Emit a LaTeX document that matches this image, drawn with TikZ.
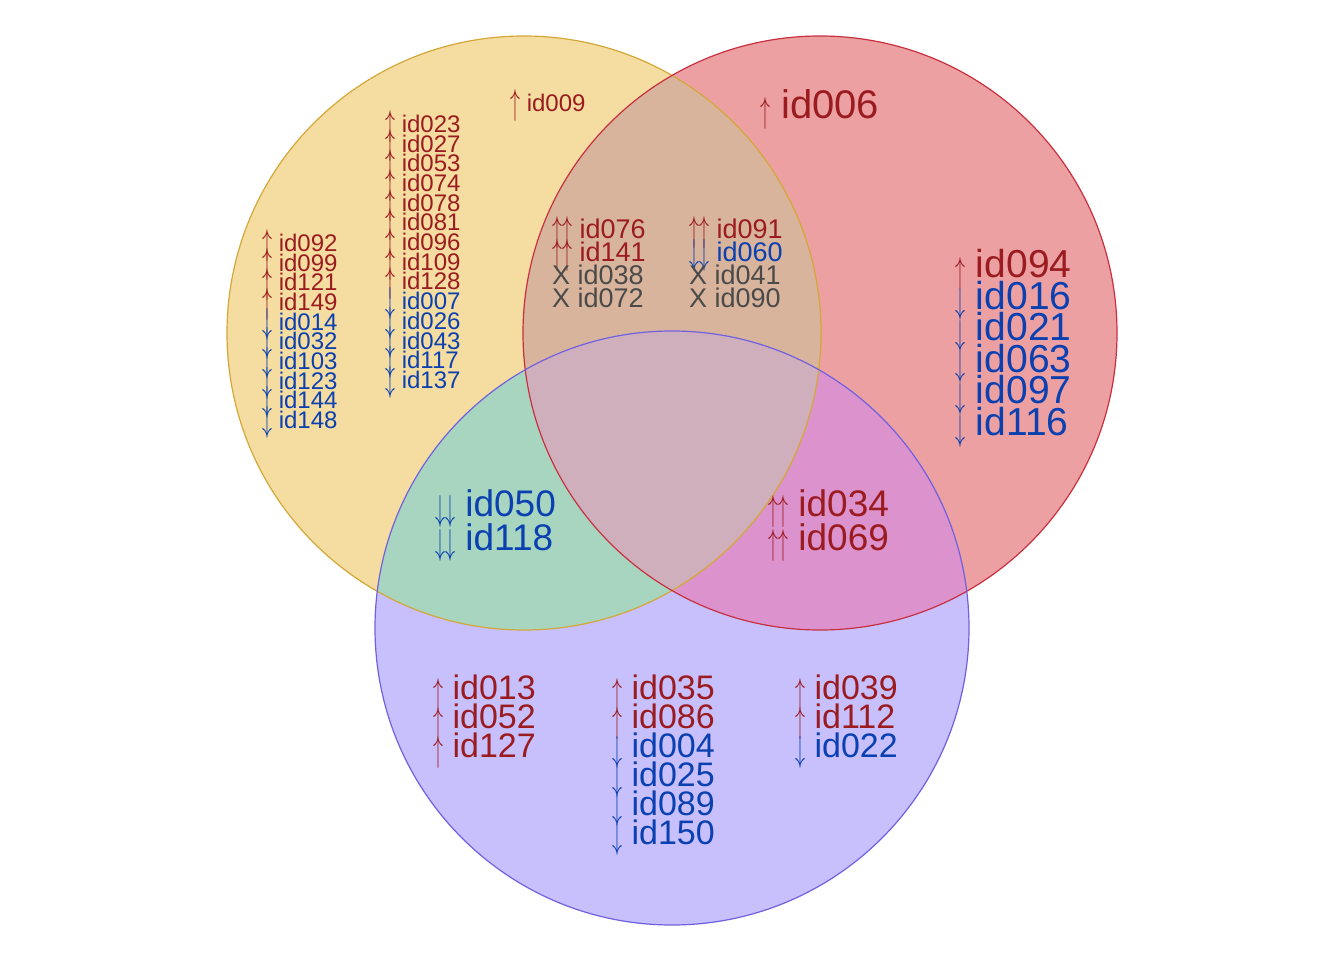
\documentclass[tikz,border=0pt]{standalone}
\usepackage{fontspec}
\setmainfont{Liberation Sans}
\usepackage{tikz}
\usetikzlibrary{positioning}
\definecolor{onlyA}{RGB}{245,220,160}
\definecolor{onlyB}{RGB}{236,160,162}
\definecolor{onlyC}{RGB}{200,192,253}
\definecolor{fillAB}{RGB}{217,180,156}
\definecolor{fillAC}{RGB}{168,213,191}
\definecolor{fillBC}{RGB}{220,146,204}
\definecolor{fillABC}{RGB}{208,175,188}
\definecolor{lineA}{RGB}{212,168,56}
\definecolor{lineB}{RGB}{200,48,64}
\definecolor{lineC}{RGB}{112,96,224}
\definecolor{upred}{RGB}{155,28,32}
\definecolor{downblue}{RGB}{10,64,176}
\definecolor{mixgray}{RGB}{74,74,74}
\newcommand{\ua}{\raisebox{-0.12em}{\scalebox{0.8}[1.45]{$\uparrow$}}}
\newcommand{\da}{\raisebox{-0.12em}{\scalebox{0.8}[1.45]{$\downarrow$}}}
\newcommand{\U}[1]{\textcolor{upred}{\ua\ #1}}
\newcommand{\D}[1]{\textcolor{downblue}{\da\ #1}}
\newcommand{\UU}[1]{\textcolor{upred}{\ua\ua\ #1}}
\newcommand{\DD}[1]{\textcolor{downblue}{\da\da\ #1}}
\newcommand{\XX}[1]{\textcolor{mixgray}{X #1}}
\newcommand{\fs}[2]{\fontsize{#1}{#2}\selectfont\lineskiplimit=-100pt\relax}
\newcommand{\circA}{(524,333) circle (297)}
\newcommand{\circB}{(820,333) circle (297)}
\newcommand{\circC}{(672,628) circle (297)}
\tikzset{
    idlist/.style={anchor=north west, align=left, inner sep=0pt}
}
\begin{document}
\begin{tikzpicture}[x=1pt,y=-1pt]
    \useasboundingbox (0,0) rectangle (1344,960);
    \fill[white] (0,0) rectangle (1344,960);
    % regions
    \fill[onlyA] \circA;
    \fill[onlyB] \circB;
    \fill[onlyC] \circC;
    \begin{scope}
        \clip \circA;
        \fill[fillAB] \circB;
        \fill[fillAC] \circC;
    \end{scope}
    \begin{scope}
        \clip \circB;
        \fill[fillBC] \circC;
    \end{scope}
    \begin{scope}
        \clip \circA;
        \clip \circB;
        \fill[fillABC] \circC;
    \end{scope}
    \draw[lineA, line width=1.2pt] \circA;
    \draw[lineB, line width=1.2pt] \circB;
    \draw[lineC, line width=1.2pt] \circC;
    % only A
    \node[idlist, font=\fs{24}{19.7}] at (262,229) (onlyA1) {\U{id092}\\\U{id099}\\\U{id121}\\\U{id149}\\\D{id014}\\\D{id032}\\\D{id103}\\\D{id123}\\\D{id144}\\\D{id148}};
    \node[idlist, font=\fs{24}{19.7}] at (385,110) (onlyA2) {\U{id023}\\\U{id027}\\\U{id053}\\\U{id074}\\\U{id078}\\\U{id081}\\\U{id096}\\\U{id109}\\\U{id128}\\\D{id007}\\\D{id026}\\\D{id043}\\\D{id117}\\\D{id137}};
    \node[idlist, font=\fs{24}{24}] at (510,89) (onlyA3) {\U{id009}};
    % only B
    \node[idlist, font=\fs{40}{40}] at (760,89) (onlyB1) {\U{id006}};
    \node[idlist, font=\fs{39}{31.6}] at (955,249) (onlyB2) {\U{id094}\\\D{id016}\\\D{id021}\\\D{id063}\\\D{id097}\\\D{id116}};
    % A and B
    \node[idlist, font=\fs{27}{23.3}] at (552,216) (AB1) {\UU{id076}\\\UU{id141}\\\XX{id038}\\\XX{id072}};
    \node[idlist, font=\fs{27}{23.3}] at (689,216) (AB2) {\UU{id091}\\\DD{id060}\\\XX{id041}\\\XX{id090}};
    % A and C, B and C
    \node[idlist, font=\fs{37}{34}] at (435,489) (AC) {\DD{id050}\\\DD{id118}};
    \node[idlist, font=\fs{37}{34}] at (768,489) (BC) {\UU{id034}\\\UU{id069}};
    % only C
    \node[idlist, font=\fs{34}{29}] at (433,675) (onlyC1) {\U{id013}\\\U{id052}\\\U{id127}};
    \node[idlist, font=\fs{34}{29}] at (612,675) (onlyC2) {\U{id035}\\\U{id086}\\\D{id004}\\\D{id025}\\\D{id089}\\\D{id150}};
    \node[idlist, font=\fs{34}{29}] at (795,675) (onlyC3) {\U{id039}\\\U{id112}\\\D{id022}};
\end{tikzpicture}
\end{document}
